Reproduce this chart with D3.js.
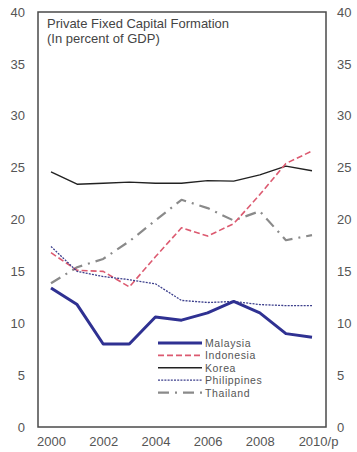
<!DOCTYPE html>
<html>
<head>
<meta charset="utf-8">
<script src="https://cdn.jsdelivr.net/npm/d3@7"></script>
<style>
  html, body { margin: 0; padding: 0; background: #fff; }
  svg { display: block; font-family: "Liberation Sans", Arial, sans-serif; }
</style>
</head>
<body>
<svg id="chart" width="357" height="452"></svg>
<script>
const years = [2000, 2001, 2002, 2003, 2004, 2005, 2006, 2007, 2008, 2009, 2010];
const xTickYears = [2000, 2002, 2004, 2006, 2008, 2010];
const xTickLabels = ["2000", "2002", "2004", "2006", "2008", "2010/p"];
const yTicks = [0, 5, 10, 15, 20, 25, 30, 35, 40];

const malaysia    = [13.4, 11.8, 8.0, 8.0, 10.6, 10.3, 11.0, 12.1, 11.0, 9.0, 8.65];
const indonesia   = [16.8, 15.1, 15.0, 13.5, 16.4, 19.2, 18.4, 19.6, 22.4, 25.4, 26.6];
const korea       = [24.6, 23.4, 23.5, 23.6, 23.5, 23.5, 23.75, 23.7, 24.3, 25.15, 24.7];
const philippines = [17.4, 15.0, 14.5, 14.2, 13.8, 12.2, 12.0, 12.1, 11.8, 11.7, 11.7];
const thailand    = [13.85, 15.4, 16.2, 17.9, 19.9, 21.9, 21.1, 19.9, 20.8, 18.0, 18.5];

const seriesNames = ["Malaysia", "Indonesia", "Korea", "Philippines", "Thailand"];
const seriesValues = [malaysia, indonesia, korea, philippines, thailand];
const seriesStyle = {
  Malaysia:    { color: "#2f3192", width: 3,   dash: null },
  Indonesia:   { color: "#dc5a70", width: 1.6, dash: "6,3" },
  Korea:       { color: "#222222", width: 1.4, dash: null },
  Philippines: { color: "#3c3f8c", width: 1.3, dash: "2,1.2" },
  Thailand:    { color: "#8a8a8a", width: 2.2, dash: "11,6,2,6" }
};

const box = { left: 38, right: 326, top: 12, bottom: 427 };

const svg = d3.select("#chart");
const x = d3.scaleLinear().domain([2000, 2010]).range([51, 312]);
const y = d3.scaleLinear().domain([0, 40]).range([box.bottom, box.top]);

// Frame
svg.append("rect")
  .attr("x", box.left).attr("y", box.top)
  .attr("width", box.right - box.left).attr("height", box.bottom - box.top)
  .attr("fill", "none").attr("stroke", "#4a4a4a").attr("stroke-width", 1.5);

// Left / right y axes (labels only)
const yLeft = d3.axisLeft(y).tickValues(yTicks).tickSize(0).tickPadding(13);
const gL = svg.append("g").attr("transform", `translate(${box.left},0)`).call(yLeft);
const yRight = d3.axisRight(y).tickValues(yTicks).tickSize(0).tickPadding(11);
const gR = svg.append("g").attr("transform", `translate(${box.right},0)`).call(yRight);
[gL, gR].forEach(g => {
  g.select(".domain").remove();
  g.selectAll("text").attr("font-size", 13).attr("fill", "#555")
    .attr("font-family", "Liberation Sans, Arial, sans-serif");
});

// X axis labels
const xAxis = d3.axisBottom(x).tickValues(xTickYears).tickSize(0).tickPadding(10)
  .tickFormat((d, i) => xTickLabels[i]);
const gX = svg.append("g").attr("transform", `translate(0,${box.bottom})`).call(xAxis);
gX.select(".domain").remove();
gX.selectAll("text").attr("font-size", 13).attr("fill", "#555")
  .attr("font-family", "Liberation Sans, Arial, sans-serif")
  .attr("dx", (d, i) => i === xTickLabels.length - 1 ? 6 : 0);

// Lines
const line = d3.line().x((d, i) => x(years[i])).y(d => y(d));
const drawOrder = ["Thailand", "Korea", "Indonesia", "Philippines", "Malaysia"];
drawOrder.forEach(name => {
  const vals = seriesValues[seriesNames.indexOf(name)];
  const st = seriesStyle[name];
  svg.append("path").datum(vals)
    .attr("d", line)
    .attr("fill", "none")
    .attr("stroke", st.color)
    .attr("stroke-width", st.width)
    .attr("stroke-dasharray", st.dash)
    .attr("stroke-linejoin", "round");
});

// Title
const title = svg.append("text").attr("x", 47).attr("y", 28)
  .attr("font-size", 13).attr("fill", "#444");
title.append("tspan").attr("x", 47).attr("dy", 0).text("Private Fixed Capital Formation");
title.append("tspan").attr("x", 47).attr("dy", 15).text("(In percent of GDP)");

// Legend
const lg = svg.append("g").attr("transform", "translate(158,343)");
seriesNames.forEach((name, i) => {
  const st = seriesStyle[name];
  const row = lg.append("g").attr("transform", `translate(0,${i * 12.4})`);
  row.append("line").attr("x1", 0).attr("x2", 44).attr("y1", 0).attr("y2", 0)
    .attr("stroke", st.color).attr("stroke-width", st.width)
    .attr("stroke-dasharray", st.dash);
  row.append("text").attr("x", 47).attr("y", 4)
    .attr("font-size", 10.5).attr("letter-spacing", 0.6)
    .attr("fill", "#555").text(name);
});
</script>
</body>
</html>
